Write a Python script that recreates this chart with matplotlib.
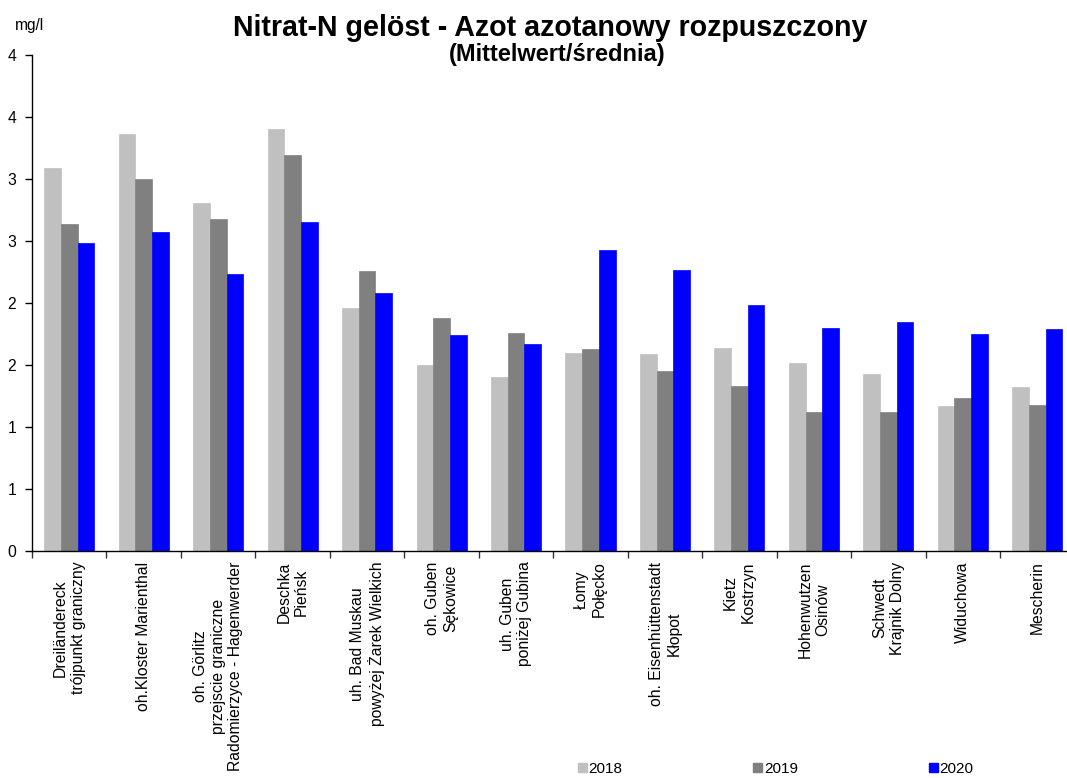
import matplotlib
matplotlib.use("Agg")
import matplotlib.pyplot as plt
from matplotlib.patches import Patch
import numpy as np

plt.rcParams['font.family'] = ['Liberation Sans', 'DejaVu Sans']

categories = [
    "Dreiländereck\ntrójpunkt graniczny",
    "oh.Kloster Marienthal",
    "oh. Görlitz\nprzejscie graniczne\nRadomierzyce - Hagenwerder",
    "Deschka\nPieńsk",
    "uh. Bad Muskau\npowyżej Żarek Wielkich",
    "oh. Guben\nSękowice",
    "uh. Guben\nponiżej Gubina",
    "Łomy\nPołęcko",
    "oh. Eisenhüttenstadt\nKłopot",
    "Kietz\nKostrzyn",
    "Hohenwutzen\nOsinów",
    "Schwedt\nKrajnik Dolny",
    "Widuchowa",
    "Mescherin",
]
years = ["2018", "2019", "2020"]
v2018 = [3.09, 3.36, 2.81, 3.40, 1.96, 1.50, 1.40, 1.60, 1.59, 1.64, 1.52, 1.43, 1.17, 1.32]
v2019 = [2.64, 3.00, 2.68, 3.19, 2.26, 1.88, 1.76, 1.63, 1.45, 1.33, 1.12, 1.12, 1.23, 1.18]
v2020 = [2.48, 2.57, 2.23, 2.65, 2.08, 1.74, 1.67, 2.43, 2.27, 1.98, 1.80, 1.85, 1.75, 1.79]
colors = ["#C0C0C0", "#808080", "#0000FF"]
ytick_values = [0, 0.5, 1, 1.5, 2, 2.5, 3, 3.5, 4]
ytick_labels = ["0", "1", "1", "2", "2", "3", "3", "4", "4"]

W, H = 1067, 778
fig = plt.figure(figsize=(W / 100, H / 100), dpi=100)
ax = fig.add_axes([32 / W, 1 - 551 / H, (1074.5 - 32) / W, (551 - 55) / H])

x = np.arange(len(categories))
w = 0.224
series = [v2018, v2019, v2020]
for i, (vals, c) in enumerate(zip(series, colors)):
    ax.bar(x + (i - 1) * w, vals, width=w, color=c, edgecolor=c, linewidth=0.5)

ax.set_xlim(-0.5, len(categories) - 0.5)
ax.set_ylim(0, 4)
ax.set_yticks(ytick_values)
ax.set_yticklabels(ytick_labels, fontsize=11.3)
ax.tick_params(axis='y', direction='out', length=5, width=1, pad=6.5)

ax.set_xticks(x)
ax.set_xticklabels(categories, rotation=90, fontsize=11.3, ha='center', va='top',
                   multialignment='center', linespacing=1.22)
ax.tick_params(axis='x', which='major', length=0, pad=7.6)
ax.set_xticks(np.arange(-0.5, len(categories), 1.0), minor=True)
ax.tick_params(axis='x', which='minor', direction='out', length=5, width=1, color='#333333')

for s in ['top', 'right']:
    ax.spines[s].set_visible(False)
for s in ['left', 'bottom']:
    ax.spines[s].set_color('black')
    ax.spines[s].set_linewidth(1)

fig.text(550 / W, 1 - 28 / H, "Nitrat-N gelöst - Azot azotanowy rozpuszczony",
         ha='center', va='center', fontsize=20.6, fontweight='bold')
fig.text(557 / W, 1 - 55 / H, "(Mittelwert/średnia)",
         ha='center', va='center', fontsize=17, fontweight='bold')
fig.text(15 / W, 1 - 30 / H, "mg/l", ha='left', va='baseline', fontsize=11.2)

handles = [Patch(facecolor=c, edgecolor=c) for c in colors]
fig.legend(handles, years, loc='lower left', bbox_to_anchor=(578 / W, 2 / H),
           ncol=3, frameon=False, fontsize=11, handlelength=0.6, handleheight=0.6,
           handletextpad=0.1, columnspacing=8.55, borderpad=0, borderaxespad=0)

fig.savefig("out.png", dpi=100)
